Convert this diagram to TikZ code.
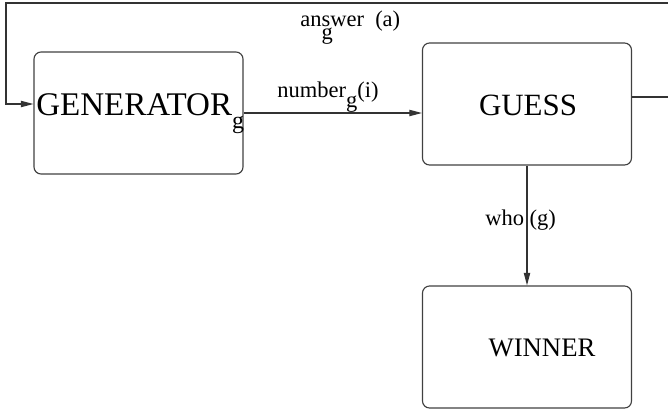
\documentclass[tikz,border=0pt]{standalone}
\usepackage{fontspec}
\setmainfont{Liberation Serif}
\usetikzlibrary{arrows.meta}

\begin{document}
\begin{tikzpicture}[x=0.025cm, y=-0.025cm]
            \tikzstyle{block} = [draw=black!75, line width=0.8pt, rounded corners=5pt, inner sep=0pt, minimum width=209*0.025cm, minimum height=122*0.025cm]
            \tikzstyle{flow} = [draw=black!80, line width=0.8pt, -{Triangle[length=9pt, width=4.5pt]}]
            \tikzstyle{big} = [inner sep=0pt, font=\fontsize{22}{26}\selectfont]
            \tikzstyle{small} = [inner sep=0pt, font=\fontsize{16}{19}\selectfont]

            \useasboundingbox (0, 0) rectangle (668, 410);

            \node[block] (gen) at (138.5, 113) {};
            \node[block] (guess) at (527, 104) {};
            \node[block] (winner) at (527, 347) {};

            \node[big, anchor=base west, font=\fontsize{23.5}{27}\selectfont] (gentext) at (36, 115) {GENERATOR\raisebox{-0.42em}{\fontsize{17}{17}\selectfont g}};
            \node[big, anchor=base] (guesstext) at (528, 115) {GUESS};
            \node[inner sep=0pt, font=\fontsize{19}{22}\selectfont] (winnertext) at (542, 348) {WINNER};

            \draw[flow] (gen.east |- 0, 113) -- (guess.west |- 0, 113);
            \draw[flow] (guess.south) -- (winner.north);
            \draw[flow] (guess.east |- 0, 97) -- (672, 97) -- (672, 3) -- (6, 3) -- (6, 104) -- (gen.west |- 0, 104);

            \node[small, anchor=base west] (numlabel) at (277, 97) {number\raisebox{-0.45em}{g}(i)};
            \node[small, anchor=base west] (anslabel) at (300, 26) {an\rlap{\raisebox{-0.6em}{g}}swer\ \ (a)};
            \node[small, anchor=base west] (wholabel) at (485, 225) {who (g)};
        \end{tikzpicture}
\end{document}
